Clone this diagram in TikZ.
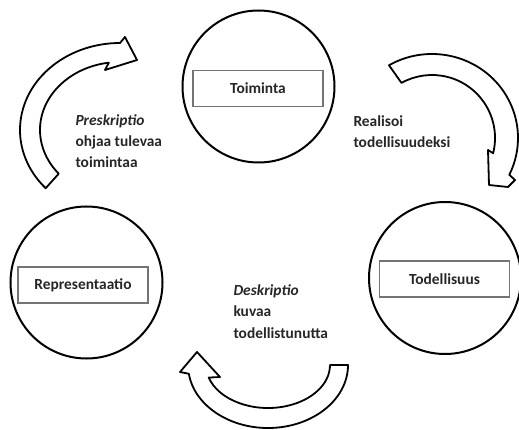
\documentclass[tikz,border=0pt]{standalone}
\usepackage{fontspec}
\setmainfont{Carlito}
\tikzset{
	stagecircle/.style={circle,draw,line width=2pt,minimum size=152pt,inner sep=0pt},
	stagebox/.style={draw=black!55,line width=1.2pt,minimum width=130pt,minimum height=36pt,inner sep=0pt,
		font=\fontsize{15.4}{21.5}\selectfont\bfseries,text=black!85},
	cyclearrow/.style={draw,line width=1.8pt,fill=white,line join=round},
	note/.style={align=left,anchor=base west,font=\fontsize{15.4}{21.5}\selectfont\bfseries,text=black!85}
}
\begin{document}
\begin{tikzpicture}[x=1pt,y=1pt]
	\useasboundingbox (0,0) rectangle (519,429);
		% stages
			\foreach \x/\y/\bx/\by/\name/\txt in {258.5/342.5/258/340.5/toiminta/Toiminta,
				86.5/146.5/83/144/repr/Representaatio,445/151/444.5/150/todell/Todellisuus}{
				\node[stagecircle] (\name) at (\x,\y) {};
				\node[stagebox]    (\name box) at (\bx,\by) {\txt};
				}
		% prescription arrow
			\draw[cyclearrow] ([shift={(120,299)}]222:100 and 87) arc[start angle=222,end angle=90,x radius=100,y radius=87]
				-- (125,392) -- (137,369) -- (105,359) -- ([shift={(120,299)}]98:80 and 68)
				arc[start angle=98,end angle=220,x radius=80,y radius=68] -- cycle;
		% realisation arrow
			\draw[cyclearrow] ([shift={(432,291)}]120:86 and 84) arc[start angle=120,end angle=-26,x radius=86,y radius=84]
				-- (515,249) -- (508,242) -- (489,244) -- (488,279) -- ([shift={(432,291)}]-14:63 and 63)
				arc[start angle=-14,end angle=119,radius=63] -- cycle;
		% description arrow
			\draw[cyclearrow] ([shift={(268,64)}]0:80 and 63) arc[start angle=0,end angle=-172,x radius=80,y radius=63]
				-- (180,57) -- (197,77) -- (220,52) -- ([shift={(268,64)}]-163:62 and 43)
				arc[start angle=-163,end angle=0,x radius=62,y radius=43] -- cycle;
		% notes (anchored at the last line)
			\node[note] (presk) at (72,261)  {\textit{Preskriptio}\\ohjaa tulevaa\\toimintaa};
			\node[note] (real)  at (350,281) {Realisoi\\todellisuudeksi};
			\node[note] (desk)  at (230,91)  {\textit{Deskriptio}\\kuvaa\\todellistunutta};
\end{tikzpicture}
\end{document}
